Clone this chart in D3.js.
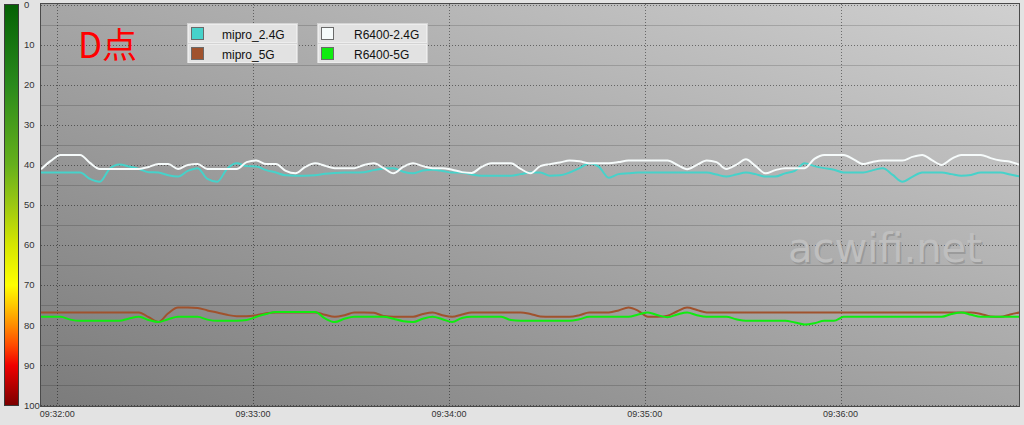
<!DOCTYPE html>
<html>
<head>
<meta charset="utf-8">
<script src="https://cdn.jsdelivr.net/npm/d3@7/dist/d3.min.js"></script>
<style>
  html, body { margin: 0; padding: 0; background: #e3e3e3; }
  svg { display: block; }
</style>
</head>
<body>
<svg id="chart" width="1024" height="425"></svg>
<script>
// ---------------- DATA ----------------
const sampleStart = "09:31:55";     // first sample time
const sampleStepSeconds = 3;        // sampling interval
const axisStart = "09:31:55";
const axisEnd = "09:36:55";
const timeTicks = ["09:32:00", "09:33:00", "09:34:00", "09:35:00", "09:36:00"];
const levelTicks = [0, 10, 20, 30, 40, 50, 60, 70, 80, 90, 100];
const seriesNames = ["mipro_2.4G", "mipro_5G", "R6400-2.4G", "R6400-5G"];
const seriesColors = ["#46d2ca", "#a0522d", "#f6fbfb", "#10ec10"];
const titleText = "D点";
const watermarkText = "acwifi.net";

// signal level (negative dBm shown as positive), one value per sample
const mipro24 = [41.9,41.9,41.9,41.9,41.9,43.5,44.2,41.0,39.9,40.4,
  41.0,41.8,41.9,42.6,42.9,41.5,40.8,43.5,44.2,41.0,
  39.6,40.3,40.4,41.3,41.9,42.6,42.7,42.7,42.6,42.2,
  42.0,41.9,41.9,41.8,41.3,40.9,40.8,41.7,42.1,41.4,
  41.2,41.5,41.9,41.9,42.4,42.7,42.7,42.7,42.7,42.3,
  41.9,41.9,42.7,42.6,41.9,40.8,39.6,40.5,43.2,42.3,
  42.1,41.9,41.9,41.9,41.9,41.9,41.9,41.9,41.9,42.4,
  42.9,42.4,41.9,42.3,42.9,42.9,42.1,41.5,39.6,40.3,
  40.8,41.2,41.9,41.9,41.9,41.3,40.8,42.5,44.2,43.0,
  41.9,41.9,41.9,42.3,42.7,42.5,41.9,41.9,41.9,42.4,42.9];
const mipro5 = [76.8,76.8,76.8,76.8,76.8,76.8,76.8,76.8,76.8,76.8,
  76.8,78.0,79.2,77.0,75.6,75.6,75.7,76.3,76.8,77.4,
  77.75,77.75,77.5,77.0,76.8,76.8,76.8,76.8,76.8,77.4,
  77.9,77.5,76.8,76.8,76.9,77.7,77.9,77.9,77.9,77.2,
  76.8,77.5,77.9,77.3,76.8,76.8,76.8,76.8,76.8,76.8,
  77.2,77.8,77.9,77.9,77.9,77.5,76.8,76.8,76.8,76.3,
  75.6,76.4,77.9,77.9,77.6,76.5,75.6,76.2,76.8,76.8,
  76.8,76.8,76.8,76.8,76.8,76.8,76.8,76.8,76.8,76.8,
  76.8,76.8,76.8,76.8,76.8,76.8,76.8,76.8,76.8,76.8,
  76.8,76.8,76.8,76.8,76.8,76.8,77.2,77.8,77.9,77.3,76.8];
const r6400_24 = [41.1,39.0,37.5,37.5,37.5,39.5,41.0,41.0,41.0,41.0,
  41.0,40.5,39.8,39.8,41.0,40.0,39.8,41.0,41.0,41.0,
  41.0,39.3,38.9,39.8,39.8,41.5,42.1,40.5,39.6,40.2,
  40.8,40.8,40.8,40.0,39.6,40.8,42.1,40.5,39.6,40.3,
  40.8,40.8,41.2,41.8,42.0,40.5,39.6,39.6,39.6,41.0,
  42.1,40.3,39.8,39.4,38.9,39.1,39.6,39.6,39.6,39.3,
  38.9,38.9,38.9,38.9,38.9,40.0,41.1,40.0,38.9,39.3,
  41.0,40.0,38.6,40.3,42.1,41.3,40.8,40.8,40.8,38.5,
  37.5,37.5,37.5,38.6,39.8,39.2,38.9,38.9,38.9,38.0,
  37.5,38.8,40.0,38.5,37.5,37.5,37.5,38.3,38.9,39.2,40.0];
const r6400_5 = [77.9,77.9,77.9,78.6,78.9,78.9,78.9,78.9,78.9,78.3,
  77.9,78.7,79.2,78.5,77.9,77.9,77.9,78.6,78.9,78.9,
  78.9,78.7,77.9,77.2,76.7,76.7,76.7,76.7,76.7,78.3,
  79.2,78.4,77.9,77.9,77.9,77.9,78.4,79.0,79.2,78.4,
  77.9,78.5,79.2,78.2,77.9,77.9,77.9,77.9,78.7,78.9,
  78.9,78.9,78.9,78.9,78.9,78.5,77.9,77.9,77.9,77.9,
  77.9,77.3,76.8,77.5,78.0,77.3,76.8,77.5,77.9,77.9,
  77.9,78.5,78.9,78.9,78.9,78.9,78.9,79.3,79.8,79.5,
  78.9,78.9,77.9,77.9,77.9,77.9,77.9,77.9,77.9,77.9,
  77.9,77.9,77.9,77.2,76.8,77.4,77.9,77.9,77.9,77.9,77.9];

// ---------------- DRAW ----------------
const parseT = d3.timeParse("%H:%M:%S");
const t0 = parseT(sampleStart);
const times = mipro24.map((_, i) => new Date(t0.getTime() + i * sampleStepSeconds * 1000));
const series = [mipro24, mipro5, r6400_24, r6400_5];
const drawOrder = [0, 1, 2, 3];

const svg = d3.select("#chart");
const plot = { x0: 41, x1: 1019, y0: 4, y1: 406 };

const x = d3.scaleTime().domain([parseT(axisStart), parseT(axisEnd)]).range([41, 1020]);
const y = d3.scaleLinear().domain([0, 100]).range([4.6, 405.4]);

const defs = svg.append("defs");
const bg = defs.append("linearGradient").attr("id", "plotbg")
  .attr("x1", 0).attr("y1", 1).attr("x2", 1).attr("y2", 0);
bg.append("stop").attr("offset", "0%").attr("stop-color", "#7b7b7b");
bg.append("stop").attr("offset", "100%").attr("stop-color", "#d0d0d0");

const cb = defs.append("linearGradient").attr("id", "cbar")
  .attr("x1", 0).attr("y1", 0).attr("x2", 0).attr("y2", 1);
[[0, "#056105"], [20, "#2a8a1c"], [40, "#66b01c"], [50, "#9cc812"], [60, "#d6e600"],
 [70, "#ffff00"], [75, "#ffc800"], [80, "#ff8c00"], [85, "#ff4a00"], [90, "#f00000"], [100, "#7a0000"]]
  .forEach(([o, c]) => cb.append("stop").attr("offset", o + "%").attr("stop-color", c));

defs.append("clipPath").attr("id", "clip").append("rect")
  .attr("x", plot.x0).attr("y", plot.y0).attr("width", plot.x1 - plot.x0).attr("height", plot.y1 - plot.y0);

// colour bar
svg.append("rect").attr("x", 4.5).attr("y", 4.5).attr("width", 14).attr("height", 401)
  .attr("fill", "url(#cbar)").attr("stroke", "#3a3a3a").attr("stroke-width", 1);
svg.append("g").selectAll("text").data(levelTicks).join("text")
  .attr("x", 24).attr("y", d => y(d)).attr("dy", "0.35em")
  .attr("font-family", "Liberation Sans, Arial, sans-serif").attr("font-size", 9.5)
  .attr("fill", "#333").text(d => d);

// plot background
svg.append("rect").attr("x", plot.x0).attr("y", plot.y0)
  .attr("width", plot.x1 - plot.x0).attr("height", plot.y1 - plot.y0).attr("fill", "url(#plotbg)");

// grid
const grid = svg.append("g").attr("clip-path", "url(#clip)");
const hLines = d3.range(0, 101, 5);
grid.selectAll("line.h").data(hLines).join("line")
  .attr("x1", plot.x0).attr("x2", plot.x1)
  .attr("y1", d => Math.round(y(d)) + 0.5).attr("y2", d => Math.round(y(d)) + 0.5)
  .attr("stroke", "#000")
  .attr("stroke-opacity", d => d % 10 === 0 ? 0.45 : 0.16)
  .attr("stroke-dasharray", d => d % 10 === 0 ? "1,2" : null)
  .attr("stroke-width", 1);
grid.selectAll("line.v").data(timeTicks).join("line")
  .attr("x1", d => Math.round(x(parseT(d))) + 0.5).attr("x2", d => Math.round(x(parseT(d))) + 0.5)
  .attr("y1", plot.y0).attr("y2", plot.y1)
  .attr("stroke", "#000").attr("stroke-opacity", 0.45).attr("stroke-dasharray", "1,2");

// watermark
const wm = svg.append("g").attr("font-family", "DejaVu Sans, sans-serif").attr("font-size", 40);
wm.append("text").attr("x", 789.5).attr("y", 263.5).attr("fill", "#8c8c8c").attr("opacity", 0.6).text(watermarkText);
wm.append("text").attr("x", 788).attr("y", 262).attr("fill", "#bfbfbf").text(watermarkText);

// lines
const line = d3.line().x((d, i) => x(times[i])).y(d => y(d)).curve(d3.curveMonotoneX);
const lg = svg.append("g").attr("clip-path", "url(#clip)");
drawOrder.forEach(k => {
  lg.append("path").datum(series[k]).attr("d", line)
    .attr("fill", "none").attr("stroke", seriesColors[k]).attr("stroke-width", 2)
    .attr("stroke-linejoin", "round");
});

// plot border
svg.append("rect").attr("x", plot.x0 - 0.5).attr("y", plot.y0 - 0.5)
  .attr("width", plot.x1 - plot.x0 + 1).attr("height", plot.y1 - plot.y0 + 1)
  .attr("fill", "none").attr("stroke", "#4a4a4a");

// title
svg.append("text").attr("x", 78).attr("y", 58)
  .attr("font-family", "Noto Sans CJK SC, sans-serif").attr("font-size", 35)
  .attr("fill", "#ff0000").text(titleText);

// legend
const legendBoxes = [{ x: 187, items: [0, 1], tx: 222 }, { x: 317, items: [2, 3], tx: 354 }];
const lgd = svg.append("g");
legendBoxes.forEach(b => {
  lgd.append("rect").attr("x", b.x).attr("y", 23).attr("width", 111).attr("height", 40).attr("fill", "#d4d4d4");
  b.items.forEach((k, r) => {
    const yy = 24 + r * 20;
    lgd.append("rect").attr("x", b.x + 1.5).attr("y", yy + 0.5).attr("width", 108).attr("height", 18)
      .attr("fill", "#e2e2e2").attr("stroke", "#ededed");
    lgd.append("rect").attr("x", b.x + 4.5).attr("y", yy + 3.5).attr("width", 12).attr("height", 12)
      .attr("fill", seriesColors[k]).attr("stroke", "#6a6a6a");
    lgd.append("text").attr("x", b.tx).attr("y", yy + 15)
      .attr("font-family", "Liberation Sans, Arial, sans-serif").attr("font-size", 12)
      .attr("fill", "#111").text(seriesNames[k]);
  });
});

// time axis labels
svg.append("g").selectAll("text").data(timeTicks).join("text")
  .attr("x", d => x(parseT(d))).attr("y", 417)
  .attr("text-anchor", "middle")
  .attr("font-family", "Liberation Sans Narrow, Liberation Sans, Arial, sans-serif").attr("font-size", 9)
  .attr("fill", "#333").text(d => d);
</script>
</body>
</html>
